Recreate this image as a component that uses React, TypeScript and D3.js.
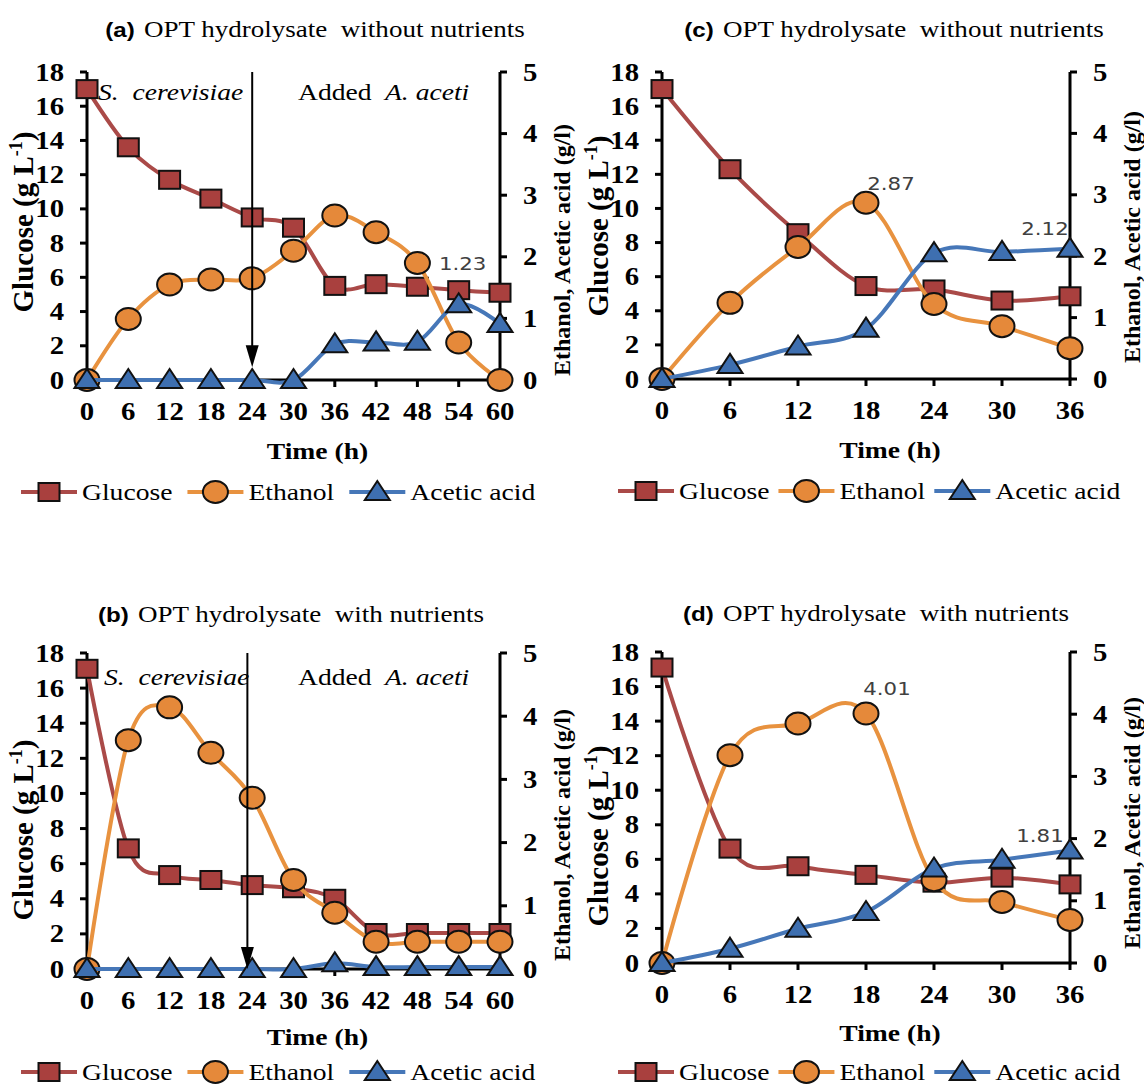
import React from "react";
import * as d3 from "d3";

// sampling times (h)
const timeLong = [0, 6, 12, 18, 24, 30, 36, 42, 48, 54, 60];
const timeShort = [0, 6, 12, 18, 24, 30, 36];

// (a) S. cerevisiae then A. aceti, no nutrients
const glucoseA = [17.0, 13.6, 11.7, 10.6, 9.5, 8.9, 5.5, 5.6, 5.45, 5.25, 5.1];
const ethanolA = [0, 0.99, 1.55, 1.63, 1.65, 2.1, 2.67, 2.4, 1.9, 0.61, 0];
const aceticA = [0, 0, 0, 0, 0, 0, 0.58, 0.61, 0.62, 1.23, 0.91];

// (b) S. cerevisiae then A. aceti, with nutrients
const glucoseB = [17.1, 6.87, 5.35, 5.07, 4.78, 4.6, 4.0, 2.05, 2.05, 2.05, 2.05];
const ethanolB = [0, 3.62, 4.14, 3.42, 2.71, 1.41, 0.89, 0.43, 0.43, 0.43, 0.43];
const aceticB = [0, 0, 0, 0, 0, 0, 0.09, 0.03, 0.03, 0.03, 0.03];

// (c) co-culture, no nutrients
const glucoseC = [17.0, 12.3, 8.55, 5.45, 5.25, 4.6, 4.85];
const ethanolC = [0, 1.24, 2.15, 2.87, 1.22, 0.86, 0.5];
const aceticC = [0, 0.23, 0.53, 0.82, 2.05, 2.07, 2.12];

// (d) co-culture, with nutrients
const glucoseD = [17.1, 6.62, 5.6, 5.1, 4.65, 4.94, 4.55];
const ethanolD = [0, 3.34, 3.85, 4.01, 1.33, 0.98, 0.69];
const aceticD = [0, 0.23, 0.55, 0.82, 1.52, 1.66, 1.81];

const leftTicks = [0, 2, 4, 6, 8, 10, 12, 14, 16, 18];
const rightTicks = [0, 1, 2, 3, 4, 5];
const seriesNames = ["Glucose", "Ethanol", "Acetic acid"];

const SX = 1.15; // the source figure is stretched horizontally
const SERIF = "'Liberation Serif', 'Times New Roman', serif";
const SANS = "'Liberation Sans', Arial, sans-serif";

const fills = ["#a9403e", "#e5893a", "#3e6fb0"];
const strokes = ["#aa4a48", "#e8923f", "#4677b8"];
const legendEm = [3.277, 3.111, 4.526];

const panels = [
  {
    key: "a", left: 87, right: 500, top: 72, bottom: 380,
    tickY: 420, timeY: 459, legendY: 492,
    tag: "(a)", title: "OPT hydrolysate  without nutrients", titleX: 315, titleY: 37,
    gluCy: 222, rightCy: 250, legendX: 21, legendGap: 15,
    times: timeLong, series: [glucoseA, ethanolA, aceticA],
    arrow: { t: 24, tip: 0.75 }, annot: { y: 100, sX: 98, addedX: 298 },
    labels: [{ s: 2, i: 9, dx: 4, dy: -34 }],
  },
  {
    key: "c", left: 662, right: 1070, top: 72, bottom: 379,
    tickY: 419, timeY: 458, legendY: 491,
    tag: "(c)", title: "OPT hydrolysate  without nutrients", titleX: 894, titleY: 37,
    gluCy: 226, rightCy: 237, legendX: 618, legendGap: 9,
    times: timeShort, series: [glucoseC, ethanolC, aceticC],
    arrow: null, annot: null,
    labels: [{ s: 1, i: 3, dx: 25, dy: -13 }, { s: 2, i: 6, dx: -25, dy: -14 }],
  },
  {
    key: "b", left: 87, right: 500, top: 653, bottom: 969,
    tickY: 1009, timeY: 1045, legendY: 1072,
    tag: "(b)", title: "OPT hydrolysate  with nutrients", titleX: 291, titleY: 622,
    gluCy: 830, rightCy: 835, legendX: 21, legendGap: 15,
    times: timeLong, series: [glucoseB, ethanolB, aceticB],
    arrow: { t: 23.3, tip: 0 }, annot: { y: 685, sX: 104, addedX: 298 },
    labels: [],
  },
  {
    key: "d", left: 662, right: 1070, top: 652, bottom: 963,
    tickY: 1003, timeY: 1041, legendY: 1072,
    tag: "(d)", title: "OPT hydrolysate  with nutrients", titleX: 876, titleY: 621,
    gluCy: 836, rightCy: 823, legendX: 618, legendGap: 9,
    times: timeShort, series: [glucoseD, ethanolD, aceticD],
    arrow: null, annot: null,
    labels: [{ s: 1, i: 3, dx: 21, dy: -19 }, { s: 2, i: 6, dx: -30, dy: -8 }],
  },
];

function HText({ x, y, anchor = "start", size, weight = "normal", italic = false, family = SERIF, fill = "#000", children }: any) {
  return (
    <text
      transform={`translate(${x},${y}) scale(${SX},1)`}
      textAnchor={anchor}
      fontSize={size}
      fontWeight={weight}
      fontStyle={italic ? "italic" : "normal"}
      fontFamily={family}
      fill={fill}
      style={{ whiteSpace: "pre" }}
    >
      {children}
    </text>
  );
}

function Marker({ kind, x, y }: any) {
  const common = { fill: fills[kind], stroke: "#111", strokeWidth: 2 };
  if (kind === 0) return <rect x={x - 10.5} y={y - 9} width={21} height={18} {...common} />;
  if (kind === 1) return <ellipse cx={x} cy={y} rx={12.5} ry={11} {...common} />;
  return <polygon points={`${x},${y - 11} ${x + 12.5},${y + 8} ${x - 12.5},${y + 8}`} {...common} />;
}

function Panel({ p }: any) {
  const tMax = d3.max(p.times) as number;
  const x = d3.scaleLinear().domain([0, tMax]).range([p.left, p.right]);
  const yL = d3.scaleLinear().domain([0, 18]).range([p.bottom, p.top]);
  const yR = d3.scaleLinear().domain([0, 5]).range([p.bottom, p.top]);
  const scaleFor = (s: number) => (s === 0 ? yL : yR);

  const line = (s: number) =>
    d3
      .line<number>()
      .x((_, i) => x(p.times[i]))
      .y((v) => scaleFor(s)(v))
      .curve(d3.curveCardinal.tension(0))(p.series[s]) as string;

  const cx = (p.left + p.right) / 2;

  // legend placement
  let lx = p.legendX;
  const legendItems = seriesNames.map((name, i) => {
    const item = { name, i, x: lx };
    lx += 61 + legendEm[i] * 24 * SX + p.legendGap;
    return item;
  });
  const ly = p.legendY;

  return (
    <g>
      {/* title */}
      <text
        transform={`translate(${p.titleX},${p.titleY}) scale(${SX},1)`}
        textAnchor="middle"
        fontFamily={SERIF}
        fontSize={23.5}
        style={{ whiteSpace: "pre" }}
      >
        <tspan fontFamily={SANS} fontWeight="bold" fontSize={21}>{p.tag}</tspan>
        <tspan dx={8}>{p.title}</tspan>
      </text>

      {/* axes */}
      <line x1={p.left} x2={p.left} y1={p.top} y2={p.bottom} stroke="#000" strokeWidth={3} />
      <line x1={p.right} x2={p.right} y1={p.top} y2={p.bottom} stroke="#000" strokeWidth={3} />
      <line x1={p.left - 1.5} x2={p.right + 1.5} y1={p.bottom} y2={p.bottom} stroke="#000" strokeWidth={3} />
      {leftTicks.map((t) => (
        <g key={"l" + t}>
          <line x1={p.left - 7} x2={p.left} y1={yL(t)} y2={yL(t)} stroke="#000" strokeWidth={3} />
          <HText x={p.left - 23} y={yL(t) + 8.5} anchor="end" size={25} weight="bold">{t}</HText>
        </g>
      ))}
      {rightTicks.map((t) => (
        <g key={"r" + t}>
          <line x1={p.right} x2={p.right + 7} y1={yR(t)} y2={yR(t)} stroke="#000" strokeWidth={3} />
          <HText x={p.right + 23} y={yR(t) + 8.5} size={25} weight="bold">{t}</HText>
        </g>
      ))}
      {p.times.map((t: number) => (
        <g key={"x" + t}>
          <line x1={x(t)} x2={x(t)} y1={p.bottom} y2={p.bottom + 7} stroke="#000" strokeWidth={3} />
          <HText x={x(t)} y={p.tickY} anchor="middle" size={25} weight="bold">{t}</HText>
        </g>
      ))}

      {/* axis titles */}
      <text
        transform={`translate(${p.left - 54},${p.gluCy}) rotate(-90)`}
        textAnchor="middle"
        fontFamily={SERIF}
        fontWeight="bold"
        fontSize={29}
      >
        Glucose (g L<tspan fontSize={18} dy={-11}>-1</tspan>
        <tspan dy={11}>)</tspan>
      </text>
      <text
        transform={`translate(${p.right + 70},${p.rightCy}) rotate(-90)`}
        textAnchor="middle"
        fontFamily={SERIF}
        fontWeight="bold"
        fontSize={24}
      >
        Ethanol, Acetic acid (g/l)
      </text>
      <HText x={cx + 24} y={p.timeY} anchor="middle" size={24} weight="bold">Time (h)</HText>

      {/* series */}
      {[0, 1, 2].map((s) => (
        <g key={"s" + s}>
          <path d={line(s)} fill="none" stroke={strokes[s]} strokeWidth={4} />
          {p.series[s].map((v: number, i: number) => (
            <Marker key={i} kind={s} x={x(p.times[i])} y={scaleFor(s)(v)} />
          ))}
        </g>
      ))}

      {/* data labels */}
      {p.labels.map((l: any, k: number) => (
        <HText
          key={"dl" + k}
          x={x(p.times[l.i]) + l.dx}
          y={scaleFor(l.s)(p.series[l.s][l.i]) + l.dy}
          anchor="middle"
          size={18.5}
          family="'DejaVu Sans', sans-serif"
          fill="#404040"
        >
          {p.series[l.s][l.i].toFixed(2)}
        </HText>
      ))}

      {/* inoculation arrow and notes */}
      {p.arrow && (
        <g>
          <line
            x1={x(p.arrow.t)}
            x2={x(p.arrow.t)}
            y1={p.top}
            y2={yL(p.arrow.tip) - 18}
            stroke="#000"
            strokeWidth={2}
          />
          <polygon
            points={`${x(p.arrow.t)},${yL(p.arrow.tip)} ${x(p.arrow.t) + 6.5},${yL(p.arrow.tip) - 22} ${x(p.arrow.t) - 6.5},${yL(p.arrow.tip) - 22}`}
            fill="#000"
          />
        </g>
      )}
      {p.annot && (
        <g>
          <HText x={p.annot.sX} y={p.annot.y} size={24} italic>S.  cerevisiae</HText>
          <HText x={p.annot.addedX} y={p.annot.y} size={24}>Added</HText>
          <HText x={p.annot.addedX + 87} y={p.annot.y} size={24} italic>A. aceti</HText>
        </g>
      )}

      {/* legend */}
      {legendItems.map((it) => (
        <g key={"lg" + it.i}>
          <line x1={it.x} x2={it.x + 56} y1={ly} y2={ly} stroke={strokes[it.i]} strokeWidth={4} />
          <Marker kind={it.i} x={it.x + 28} y={ly} />
          <HText x={it.x + 61} y={ly + 8} size={24}>{it.name}</HText>
        </g>
      ))}
    </g>
  );
}

export default function App() {
  return (
    <svg width={1144} height={1087} style={{ display: "block", position: "absolute", left: 0, top: 0, background: "#fff" }}>
      <rect width={1144} height={1087} fill="#fff" />
      {panels.map((p) => (
        <Panel key={p.key} p={p} />
      ))}
    </svg>
  );
}
